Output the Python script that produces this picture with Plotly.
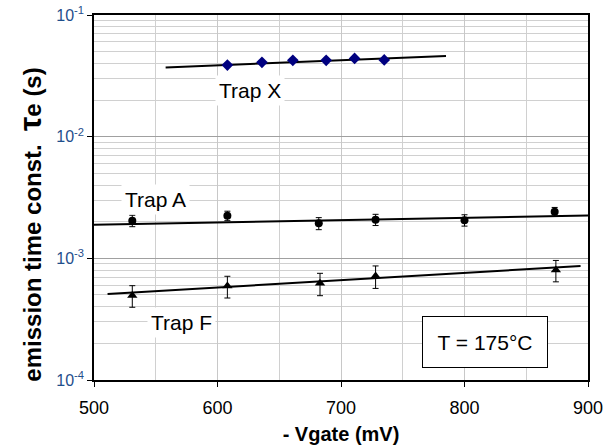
import plotly.graph_objects as go
import numpy as np

# Data
x_X = [608, 636, 661, 688, 711, 735]
y_X = [0.0388, 0.0408, 0.0424, 0.0424, 0.0440, 0.0427]
fit_X_x = [558, 785]
fit_X_y = [0.0371, 0.0460]

x_A = [531, 608, 682, 728, 800, 873]
y_A = [0.00204, 0.00224, 0.00194, 0.00208, 0.00206, 0.00242]
err_A = [0.00022, 0.0002, 0.00022, 0.00022, 0.00022, 0.0002]
fit_A_x = [500, 900]
fit_A_y = [0.00189, 0.00225]

x_F = [531, 608, 683, 728, 874]
y_F = [0.000496, 0.000592, 0.000623, 0.000716, 0.000801]
err_F = [0.0001, 0.00012, 0.00013, 0.00015, 0.00016]
fit_F_x = [511, 894]
fit_F_y = [0.000509, 0.000865]

x_ticks = [500, 600, 700, 800, 900]
y_ticks = [1e-4, 1e-3, 1e-2, 1e-1]
y_ticktext = ["10<sup>-4</sup>", "10<sup>-3</sup>", "10<sup>-2</sup>", "10<sup>-1</sup>"]

FONT = "Liberation Sans, Arial, sans-serif"

fig = go.Figure()
for fx, fy in [(fit_X_x, fit_X_y), (fit_A_x, fit_A_y), (fit_F_x, fit_F_y)]:
    fig.add_trace(go.Scatter(x=fx, y=fy, mode="lines", line=dict(color="black", width=2), showlegend=False))

fig.add_trace(go.Scatter(x=x_X, y=y_X, mode="markers",
                         marker=dict(symbol="diamond", size=9, color="#000080"), showlegend=False))
fig.add_trace(go.Scatter(x=x_A, y=y_A, mode="markers",
                         error_y=dict(type="data", array=err_A, color="black", thickness=1, width=3),
                         marker=dict(symbol="circle", size=8, color="black"), showlegend=False))
fig.add_trace(go.Scatter(x=x_F, y=y_F, mode="markers",
                         error_y=dict(type="data", array=err_F, color="black", thickness=1, width=3),
                         marker=dict(symbol="triangle-up", size=9, color="black"), showlegend=False))

minor_y = [m * 10.0 ** e for e in range(-4, -1) for m in range(2, 10)]

fig.update_xaxes(range=[500, 900], tickvals=x_ticks, ticks="outside", ticklen=5, tickcolor="black",
                 ticklabelstandoff=6,
                 showline=True, linecolor="black", linewidth=1.5, mirror=True,
                 showgrid=True, gridcolor="#c8c8c8", gridwidth=1,
                 minor=dict(tickvals=[550, 650, 750, 850], showgrid=True, gridcolor="#d0d0d0", ticklen=0),
                 tickfont=dict(size=18, color="black", family=FONT), zeroline=False,
                 title=dict(text="<b>- Vgate (mV)</b>", font=dict(size=20, color="black", family=FONT), standoff=10))
fig.update_yaxes(type="log", range=[-4, -1], tickvals=y_ticks, ticktext=y_ticktext,
                 ticks="outside", ticklen=5, tickcolor="black",
                 showline=True, linecolor="black", linewidth=1.5, mirror=True,
                 showgrid=True, gridcolor="#a0a0a0", gridwidth=1,
                 minor=dict(tickvals=minor_y, showgrid=True, gridcolor="#d0d0d0", ticklen=0),
                 tickfont=dict(size=16, color="#1f4e8c", family=FONT), zeroline=False)

# y-axis title as rotated annotation
fig.add_annotation(xref="paper", yref="paper", x=-0.13, y=0.425, xanchor="center", yanchor="middle",
                   textangle=-90, showarrow=False,
                   text="<b>emission time const.  <span style='font-size:32px'>τ</span>e (s)</b>",
                   font=dict(size=24, color="black", family=FONT))

for txt, xx, yy in [("Trap X", 626, 0.024), ("Trap A", 550, 0.00303), ("Trap F", 571, 0.000296)]:
    fig.add_annotation(x=xx, y=np.log10(yy), text=txt, showarrow=False, bgcolor="white",
                       font=dict(size=21, color="black", family=FONT), borderpad=3)

fig.add_annotation(xref="paper", yref="paper", x=0.792, y=0.104, xanchor="center", yanchor="middle",
                   text="T = 175°C", showarrow=False,
                   bgcolor="white", bordercolor="black", borderwidth=1, borderpad=2, width=120, height=46,
                   font=dict(size=21, color="black", family=FONT))

fig.update_layout(width=613, height=447, margin=dict(l=94, r=25, t=15, b=67, autoexpand=False),
                  plot_bgcolor="white", paper_bgcolor="white", font=dict(family=FONT))
fig.write_html("out.html", config={"displayModeBar": False},
               post_script="document.body.style.margin='0';document.body.style.overflow='hidden';")
